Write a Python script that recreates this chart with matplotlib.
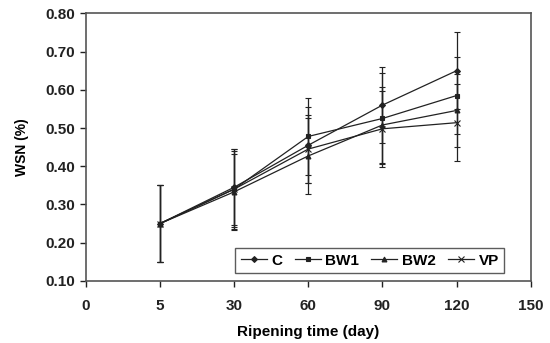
import numpy as np
import matplotlib
matplotlib.use('Agg')
import matplotlib.pyplot as plt

plt.rcParams['font.family'] = ['Liberation Sans', 'DejaVu Sans']
plt.rcParams['font.weight'] = 'bold'

# categorical x axis: ticks 0..150 evenly spaced, data at 5..120
tick_labels = ['0', '5', '30', '60', '90', '120', '150']
days = ['5', '30', '60', '90', '120']

C = [0.25, 0.345, 0.455, 0.56, 0.65]
C_err = [0.10, 0.10, 0.10, 0.10, 0.10]
BW1 = [0.25, 0.34, 0.478, 0.525, 0.585]
BW1_err = [0.10, 0.105, 0.10, 0.12, 0.10]
BW2 = [0.25, 0.333, 0.427, 0.508, 0.546]
BW2_err = [0.10, 0.10, 0.10, 0.10, 0.095]
VP = [0.25, 0.34, 0.445, 0.498, 0.514]
VP_err = [0.10, 0.10, 0.09, 0.10, 0.10]

series = [('C', C, C_err, 'D', 3), ('BW1', BW1, BW1_err, 's', 3.5),
          ('BW2', BW2, BW2_err, '^', 3.5), ('VP', VP, VP_err, 'x', 4)]

x = np.array([tick_labels.index(d) for d in days])

fig = plt.figure(figsize=(5.5, 3.43), dpi=100)
ax = fig.add_axes([0.156, 0.181, 0.809, 0.78])

for name, vals, err, mk, ms in series:
    ax.errorbar(x, vals, yerr=err, color='#222222', linewidth=0.9,
                marker=mk, markersize=ms, markeredgewidth=0.8,
                elinewidth=0.9, capsize=2.5, capthick=0.9, label=name)

ax.set_xlim(0, 6)
ax.set_ylim(0.10, 0.80)
ax.set_xticks(range(len(tick_labels)))
ax.set_xticklabels(tick_labels)
ax.set_yticks(np.arange(0.10, 0.81, 0.10))
ax.set_yticklabels([f'{v:.2f}' for v in np.arange(0.10, 0.81, 0.10)])
ax.tick_params(labelsize=11, width=1, length=4, colors='#222222')
ax.tick_params(axis='x', pad=9)
for s in ax.spines.values():
    s.set_linewidth(1.2)
    s.set_color('#555555')

ax.set_xlabel('Ripening time (day)', fontsize=11, fontweight='bold', labelpad=9)
ax.set_ylabel('WSN (%)', fontsize=10, fontweight='bold', labelpad=12)

handles, labels = ax.get_legend_handles_labels()
handles = [h[0] for h in handles]
leg = ax.legend(handles, labels, loc='lower right', ncol=4, fontsize=11,
                frameon=True, fancybox=False, edgecolor='#333333',
                handlelength=1.7, columnspacing=0.8, handletextpad=0.3,
                borderpad=0.35, borderaxespad=0, bbox_to_anchor=(0.94, 0.03))
leg.get_frame().set_linewidth(1.0)

fig.savefig('out.png', dpi=100)
